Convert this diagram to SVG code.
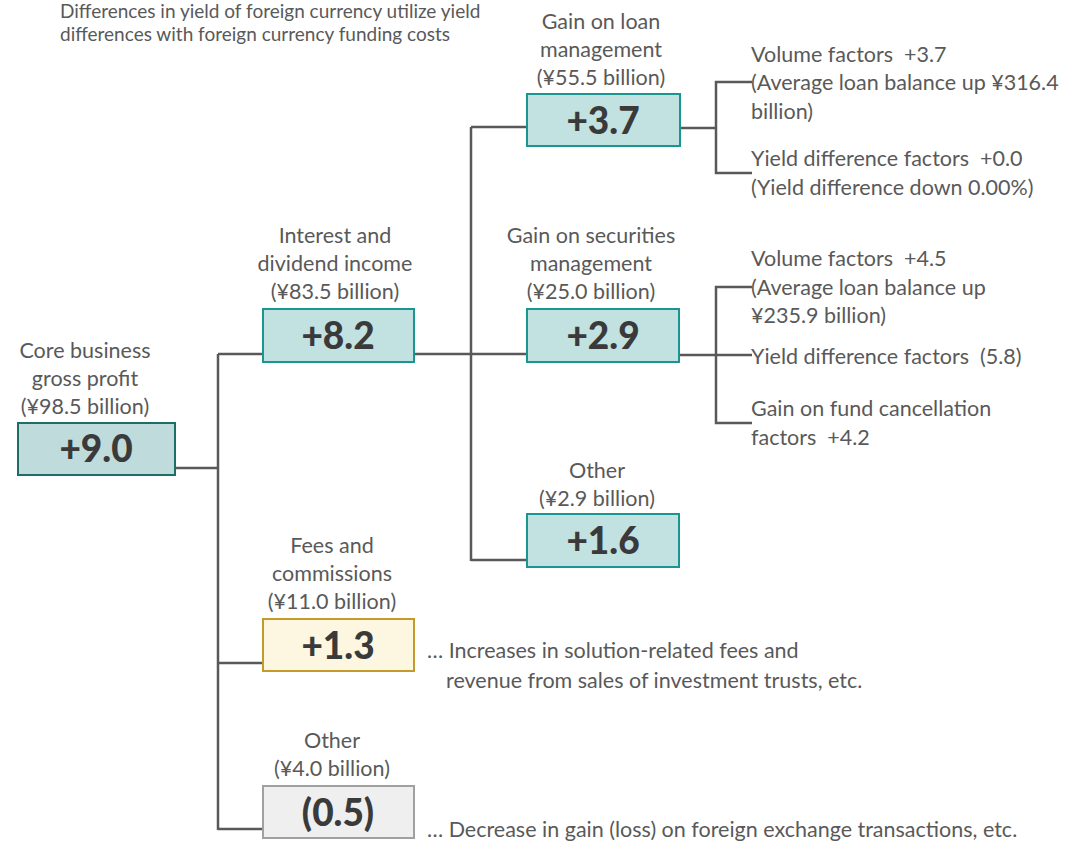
<svg xmlns="http://www.w3.org/2000/svg" width="1068" height="841" viewBox="0 0 1068 841">
  <style>
    .lbl { font-family: Lato, "Open Sans", sans-serif; font-size: 21.5px; fill: #595959; white-space: pre; }
    .note { font-size: 19px; }
    .mid { text-anchor: middle; }
    .val { font-family: Lato, "Open Sans", sans-serif; font-size: 37px; font-weight: 900; fill: #3a3a3a; text-anchor: middle; }
    .teal { fill: #c2e1e1; stroke: #1a958f; stroke-width: 2; }
    .root { fill: #bfdbdb; stroke: #1e6e68; stroke-width: 2; }
    .gold { fill: #fdf6e1; stroke: #c49a2a; stroke-width: 2; }
    .grey { fill: #efefef; stroke: #a0a0a0; stroke-width: 2; }
    .wire { fill: none; stroke: #595959; stroke-width: 2.5; }
  </style>
  <rect width="1068" height="841" fill="#ffffff"/>

  <g id="header-note">
    <text class="lbl note" x="60" y="18">Differences in yield of foreign currency utilize yield</text>
    <text class="lbl note" x="60" y="41">differences with foreign currency funding costs</text>
  </g>

  <g id="connectors">
    <polyline class="wire" points="175,468 218,468"/>
    <line class="wire" x1="218" y1="354" x2="218" y2="830"/>
    <polyline class="wire" points="218,354 263,354"/>
    <polyline class="wire" points="218,663 263,663"/>
    <polyline class="wire" points="218,829 263,829"/>
    <polyline class="wire" points="414,354 527,354"/>
    <line class="wire" x1="471" y1="127" x2="471" y2="561"/>
    <polyline class="wire" points="471,127 527,127"/>
    <polyline class="wire" points="471,560 527,560"/>
    <polyline class="wire" points="680,128 716,128"/>
    <polyline class="wire" points="752,82 716,82 716,173 752,173"/>
    <polyline class="wire" points="680,355 752,355"/>
    <polyline class="wire" points="752,287 716,287 716,423 752,423"/>
  </g>

  <g id="core-profit">
    <text class="lbl mid" x="85" y="358">Core business</text>
    <text class="lbl mid" x="85" y="386">gross profit</text>
    <text class="lbl mid" x="85" y="414">(¥98.5 billion)</text>
    <rect class="root" x="18" y="423" width="157" height="52"/>
    <text class="val" x="96" y="462">+9.0</text>
  </g>

  <g id="interest-dividend">
    <text class="lbl mid" x="335" y="243">Interest and</text>
    <text class="lbl mid" x="335" y="271">dividend income</text>
    <text class="lbl mid" x="335" y="299">(¥83.5 billion)</text>
    <rect class="teal" x="263" y="309" width="151" height="53"/>
    <text class="val" x="338" y="349">+8.2</text>
  </g>

  <g id="loan-management">
    <text class="lbl mid" x="601" y="29">Gain on loan</text>
    <text class="lbl mid" x="601" y="57">management</text>
    <text class="lbl mid" x="601" y="85">(¥55.5 billion)</text>
    <rect class="teal" x="527" y="94" width="153" height="52"/>
    <text class="val" x="603" y="134">+3.7</text>
  </g>

  <g id="securities-management">
    <text class="lbl mid" x="591" y="243">Gain on securities</text>
    <text class="lbl mid" x="591" y="271">management</text>
    <text class="lbl mid" x="591" y="299">(¥25.0 billion)</text>
    <rect class="teal" x="527" y="309" width="152" height="53"/>
    <text class="val" x="603" y="349">+2.9</text>
  </g>

  <g id="interest-other">
    <text class="lbl mid" x="597" y="478">Other</text>
    <text class="lbl mid" x="597" y="506">(¥2.9 billion)</text>
    <rect class="teal" x="527" y="514" width="152" height="53"/>
    <text class="val" x="603" y="554">+1.6</text>
  </g>

  <g id="fees-commissions">
    <text class="lbl mid" x="332" y="553">Fees and</text>
    <text class="lbl mid" x="332" y="581">commissions</text>
    <text class="lbl mid" x="332" y="609">(¥11.0 billion)</text>
    <rect class="gold" x="263" y="619" width="151" height="52"/>
    <text class="val" x="338" y="659">+1.3</text>
    <text class="lbl" x="427" y="658">… Increases in solution-related fees and</text>
    <text class="lbl" x="446" y="688">revenue from sales of investment trusts, etc.</text>
  </g>

  <g id="other-income">
    <text class="lbl mid" x="332" y="748">Other</text>
    <text class="lbl mid" x="332" y="776">(¥4.0 billion)</text>
    <rect class="grey" x="263" y="786" width="151" height="52"/>
    <text class="val" x="338" y="826">(0.5)</text>
    <text class="lbl" x="427" y="837">… Decrease in gain (loss) on foreign exchange transactions, etc.</text>
  </g>

  <g id="loan-factors">
    <text class="lbl" x="751" y="62">Volume factors  +3.7</text>
    <text class="lbl" x="751" y="90">(Average loan balance up ¥316.4</text>
    <text class="lbl" x="751" y="119">billion)</text>
    <text class="lbl" x="751" y="166">Yield difference factors  +0.0</text>
    <text class="lbl" x="751" y="195">(Yield difference down 0.00%)</text>
  </g>

  <g id="securities-factors">
    <text class="lbl" x="751" y="266">Volume factors  +4.5</text>
    <text class="lbl" x="751" y="295">(Average loan balance up</text>
    <text class="lbl" x="751" y="323">¥235.9 billion)</text>
    <text class="lbl" x="751" y="364">Yield difference factors  (5.8)</text>
    <text class="lbl" x="751" y="416">Gain on fund cancellation</text>
    <text class="lbl" x="751" y="445">factors  +4.2</text>
  </g>
</svg>
